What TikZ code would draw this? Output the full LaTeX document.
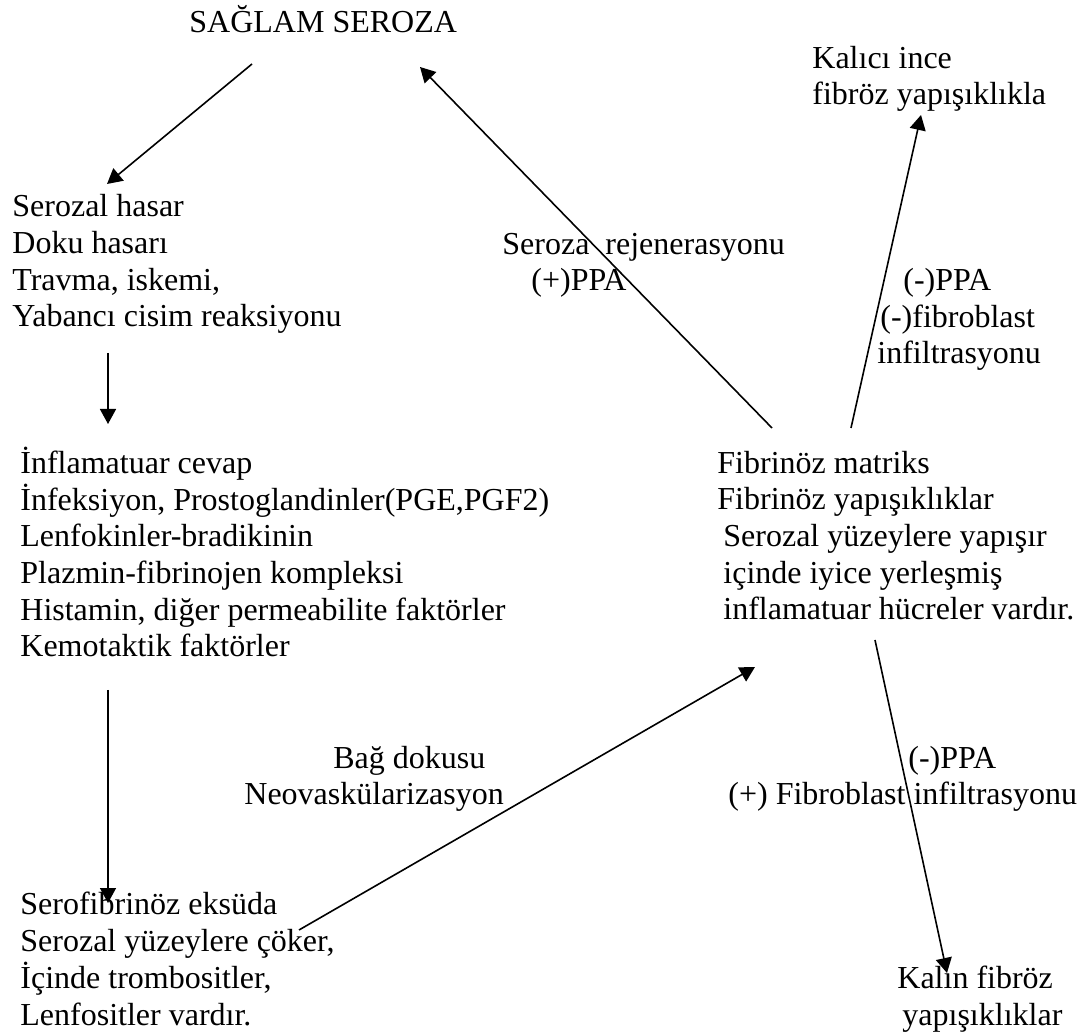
\documentclass[tikz,border=0pt]{standalone}
\usepackage{fontspec}
\setmainfont{Liberation Serif}
\usetikzlibrary{arrows.meta}
\begin{document}
\begin{tikzpicture}[x=0.5pt,y=-0.5pt,
    metin/.style={anchor=base west, inner sep=0pt, align=left, font=\fontsize{16}{18.35}\selectfont},
    ok/.style={-{Triangle[length=7.5pt,width=8pt]}, line width=0.8pt}]
    \useasboundingbox (0,0) rectangle (1087,1036);

    % Evreler (konum: son satirin tabani)
    \node[metin] (saglam) at (189,33) {SAĞLAM SEROZA};
    \node[metin] (hasar) at (12,327) {Serozal hasar\\Doku hasarı\\Travma, iskemi,\\Yabancı cisim reaksiyonu};
    \node[metin] (inflamasyon) at (20,657) {İnflamatuar cevap\\İnfeksiyon, Prostoglandinler(PGE,PGF2)\\Lenfokinler-bradikinin\\Plazmin-fibrinojen kompleksi\\Histamin, diğer permeabilite faktörler\\Kemotaktik faktörler};
    \node[metin] (eksuda) at (20,1025) {Serofibrinöz eksüda\\Serozal yüzeylere çöker,\\İçinde trombositler,\\Lenfositler vardır.};
    \node[metin] (matriks) at (717,620) {Fibrinöz matriks\\Fibrinöz yapışıklıklar\\\hspace*{3pt}Serozal yüzeylere yapışır\\\hspace*{3pt}içinde iyice yerleşmiş\\\hspace*{3pt}inflamatuar hücreler vardır.};
    \node[metin] (kalici) at (812,105) {Kalıcı ince\\fibröz yapışıklıkla};
    \node[metin] (kalin) at (897,1025) {Kalın fibröz\\\hspace*{2.5pt}yapışıklıklar};

    % Etiketler
    \node[metin] (rejenerasyon) at (502,291) {Seroza\ \ rejenerasyonu\\\hspace*{14.5pt}(+)PPA};
    \node[metin] (inceetiket) at (877,364) {\hspace*{13pt}(-)PPA\\\hspace*{1.5pt}(-)fibroblast\\infiltrasyonu};
    \node[metin] (bag) at (244,805) {\hspace*{44.5pt}Bağ dokusu\\Neovaskülarizasyon};
    \node[metin] (kalinetiket) at (728,805) {\hspace*{90pt}(-)PPA\\(+) Fibroblast infiltrasyonu};

    % Ok uclari
    \coordinate (saglam-alt) at (252,64);
    \coordinate (hasar-ust) at (107,184);
    \coordinate (hasar-alt) at (108,353);
    \coordinate (inflamasyon-ust) at (108,424);
    \coordinate (inflamasyon-alt) at (108,690);
    \coordinate (eksuda-ust) at (108,903);
    \coordinate (eksuda-sag) at (299,930);
    \coordinate (matriks-sol) at (755,667);
    \coordinate (matriks-ust) at (772,428);
    \coordinate (saglam-sag) at (420,67);
    \coordinate (matriks-ust2) at (851,428);
    \coordinate (kalici-alt) at (921,115);
    \coordinate (matriks-alt) at (875,640);
    \coordinate (kalin-ust) at (947,973);

    % Oklar
    \draw[ok] (saglam-alt) -- (hasar-ust);
    \draw[ok] (hasar-alt) -- (inflamasyon-ust);
    \draw[ok] (inflamasyon-alt) -- (eksuda-ust);
    \draw[ok] (eksuda-sag) -- (matriks-sol);
    \draw[ok] (matriks-ust) -- (saglam-sag);
    \draw[ok] (matriks-ust2) -- (kalici-alt);
    \draw[ok] (matriks-alt) -- (kalin-ust);
\end{tikzpicture}
\end{document}
